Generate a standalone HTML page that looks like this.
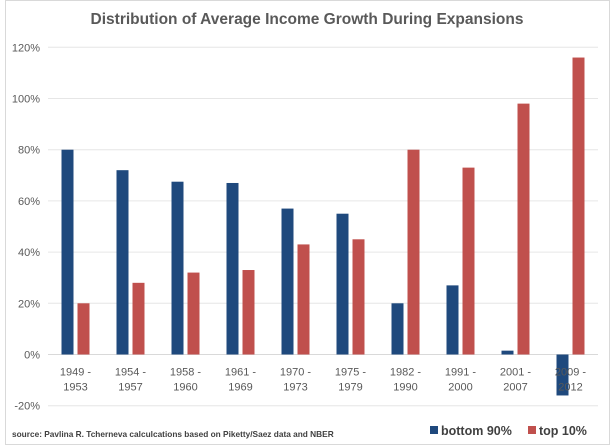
<!DOCTYPE html>
<html><head><meta charset="utf-8"><style>
body{margin:0;background:#fff;}
svg{display:block;font-family:"Liberation Sans",sans-serif;}
</style></head><body>
<svg id="chart" width="614" height="446">
<rect x="5.5" y="0.5" width="604" height="444" fill="#fff" stroke="#d9d9d9"/>
<text x="307" y="24" text-anchor="middle" font-size="15.5" font-weight="bold" fill="#595959">Distribution of Average Income Growth During Expansions</text>
<g id="grid"></g><g id="bars"></g><g id="labels"></g>
<text x="12" y="437" font-size="8.3" font-weight="bold" fill="#404040">source: Pavlina R. Tcherneva calculcations based on Piketty/Saez data and NBER</text>
<rect x="430" y="426" width="8" height="8" fill="#1f497d"/>
<text x="441" y="435" font-size="12.5" font-weight="bold" fill="#404040">bottom 90%</text>
<rect x="528" y="426" width="8" height="8" fill="#c0504d"/>
<text x="539" y="435" font-size="12.5" font-weight="bold" fill="#404040">top 10%</text>
</svg>
<script>
const categories=[["1949 -","1953"],["1954 -","1957"],["1958 -","1960"],["1961 -","1969"],["1970 -","1973"],["1975 -","1979"],["1982 -","1990"],["1991 -","2000"],["2001 -","2007"],["2009 -","2012"]];
const bottom90=[80,72,67.5,67,57,55,20,27,1.5,-16];
const top10=[20,28,32,33,43,45,80,73,98,116];
const ticks=[-20,0,20,40,60,80,100,120];
const NS="http://www.w3.org/2000/svg";
const x0=48,x1=598,yZero=354.5,pxPer=51.2/20;
const y=v=>yZero-v*pxPer;
const bw=(x1-x0)/categories.length;
const cx=i=>x0+bw*(i+0.5);
function mk(tag,attrs,parent){const e=document.createElementNS(NS,tag);for(const k in attrs)e.setAttribute(k,attrs[k]);document.getElementById(parent).appendChild(e);return e;}
ticks.forEach(t=>{
  const l=mk('line',{x1:x0,x2:x1,y1:y(t),y2:y(t),stroke:t===0?'#d9d9d9':'#e6e6e6','stroke-width':1},'grid');
  
  
  const tx=mk('text',{x:40,y:y(t)+4,'text-anchor':'end','font-size':11,fill:'#595959'},'grid');
  tx.textContent=t+'%';
  
  
});
categories.forEach((c,i)=>{
  const b=bottom90[i],r=top10[i];
  const rb=mk('rect',{x:cx(i)-14,width:12,y:Math.min(y(b),yZero),height:Math.abs(y(b)-yZero),fill:'#1f497d'},'bars');
  
  
  const rt=mk('rect',{x:cx(i)+2,width:12,y:Math.min(y(r),yZero),height:Math.abs(y(r)-yZero),fill:'#c0504d'},'bars');
  
  
  c.forEach((s,j)=>{
    const t=mk('text',{x:cx(i),y:yZero+21+j*15,'text-anchor':'middle','font-size':11,fill:'#595959'},'labels');
    t.textContent=s;
    
    
  });
});
</script>
</body></html>
